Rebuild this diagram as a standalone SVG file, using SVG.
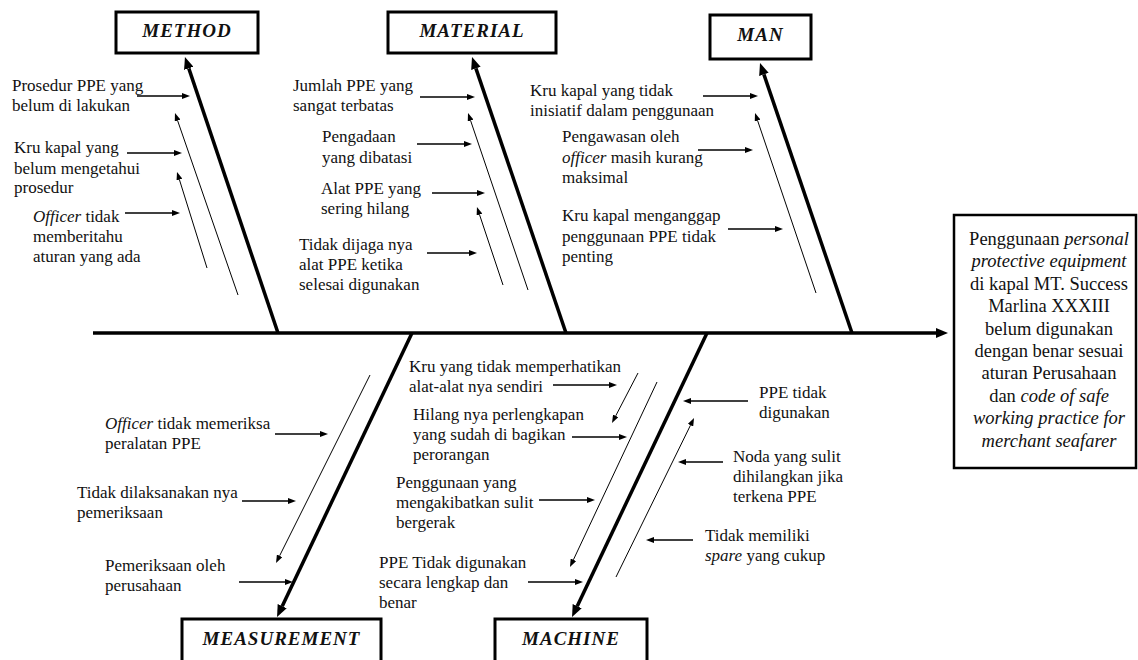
<svg xmlns="http://www.w3.org/2000/svg" width="1138" height="660" viewBox="0 0 1138 660">
<defs>
<style>
.lbl{font-family:"Liberation Serif","Times New Roman",serif;font-size:17px;fill:#111}
.cat{font-family:"Liberation Serif","Times New Roman",serif;font-size:19px;font-weight:bold;font-style:italic;letter-spacing:1px;fill:#111;text-anchor:middle}
.eff{font-family:"Liberation Serif","Times New Roman",serif;font-size:18.5px;fill:#111;text-anchor:middle}
.box{fill:#fff;stroke:#000;stroke-width:3}
.thick{stroke:#000;stroke-width:3.5;fill:none;marker-end:url(#bigArrow)}
.thin{stroke:#000;stroke-width:1;fill:none;marker-end:url(#smallArrow)}
.hz{stroke:#000;stroke-width:1.3;fill:none;marker-end:url(#smallArrow)}
</style>
<marker id="bigArrow" viewBox="0 -5 12 10" refX="0" refY="0" markerWidth="12" markerHeight="10" markerUnits="userSpaceOnUse" orient="auto">
<path d="M0,-5 L12,0 L0,5 z" fill="#000"/>
</marker>
<marker id="smallArrow" viewBox="0 -3 8 6" refX="0" refY="0" markerWidth="8" markerHeight="6" markerUnits="userSpaceOnUse" orient="auto">
<path d="M0,-3 L8,0 L0,3 z" fill="#000"/>
</marker>
</defs>
<rect width="1138" height="660" fill="#fff"/>

<g id="connectors">
<line class="thick" x1="93" y1="333" x2="936" y2="333" stroke-width="4"/>
<line class="thick" x1="278" y1="333" x2="188.8" y2="68.4"/>
<line class="thick" x1="566" y1="333" x2="475.9" y2="68.4"/>
<line class="thick" x1="852" y1="333" x2="763.9" y2="74.4"/>
<line class="thick" x1="412" y1="333" x2="282.2" y2="606.2"/>
<line class="thick" x1="707" y1="333" x2="577.2" y2="606.2"/>
<line class="thin" x1="238" y1="295" x2="177.6" y2="120.6"/>
<line class="thin" x1="207" y1="268" x2="179.4" y2="179.6"/>
<line class="thin" x1="528" y1="290" x2="470.6" y2="120.6"/>
<line class="thin" x1="503" y1="285" x2="479.5" y2="214.6"/>
<line class="thin" x1="816" y1="293" x2="757.6" y2="120.6"/>
<line class="thin" x1="370" y1="375" x2="279.6" y2="555.8"/>
<line class="thin" x1="638" y1="373" x2="615.7" y2="415.9"/>
<line class="thin" x1="657" y1="382" x2="573.4" y2="559.8"/>
<line class="thin" x1="616" y1="577" x2="690.5" y2="425.2"/>
<line class="hz" x1="137" y1="96" x2="182" y2="96"/>
<line class="hz" x1="127" y1="153" x2="174" y2="153"/>
<line class="hz" x1="125" y1="213" x2="172" y2="213"/>
<line class="hz" x1="420" y1="97" x2="467" y2="97"/>
<line class="hz" x1="417" y1="144" x2="464" y2="144"/>
<line class="hz" x1="432" y1="193" x2="477" y2="193"/>
<line class="hz" x1="427" y1="253" x2="469" y2="253"/>
<line class="hz" x1="703" y1="96" x2="750" y2="96"/>
<line class="hz" x1="698" y1="150" x2="745" y2="150"/>
<line class="hz" x1="728" y1="229" x2="775" y2="229"/>
<line class="hz" x1="275" y1="434" x2="320" y2="434"/>
<line class="hz" x1="242" y1="501" x2="288" y2="501"/>
<line class="hz" x1="239" y1="582" x2="285" y2="582"/>
<line class="hz" x1="553" y1="385" x2="609" y2="385"/>
<line class="hz" x1="572" y1="437" x2="619" y2="437"/>
<line class="hz" x1="539" y1="500" x2="587" y2="500"/>
<line class="hz" x1="528" y1="582" x2="575" y2="582"/>
<line class="hz" x1="748" y1="401" x2="691" y2="401"/>
<line class="hz" x1="723" y1="462" x2="686" y2="462"/>
<line class="hz" x1="693" y1="540" x2="654" y2="540"/>
</g>

<g id="method">
<rect class="box" x="116" y="12" width="142" height="41"/>
<text class="cat" x="187" y="37">METHOD</text>
</g>
<g id="material">
<rect class="box" x="388" y="12" width="168" height="41"/>
<text class="cat" x="472" y="37">MATERIAL</text>
</g>
<g id="man">
<rect class="box" x="710" y="15" width="101" height="44"/>
<text class="cat" x="760.5" y="40.5">MAN</text>
</g>
<g id="measurement">
<rect class="box" x="182" y="619" width="199" height="45"/>
<text class="cat" x="281.5" y="645">MEASUREMENT</text>
</g>
<g id="machine">
<rect class="box" x="495" y="619" width="152" height="45"/>
<text class="cat" x="571" y="645">MACHINE</text>
</g>

<g id="effect">
<rect x="954" y="215" width="182" height="253" fill="#fff" stroke="#000" stroke-width="2.5"/>
<text class="eff" x="1049" y="245">Penggunaan <tspan font-style="italic">personal</tspan></text>
<text class="eff" x="1049" y="267.4" font-style="italic">protective equipment</text>
<text class="eff" x="1049" y="289.8">di kapal MT. Success</text>
<text class="eff" x="1049" y="312.2">Marlina XXXIII</text>
<text class="eff" x="1049" y="334.6">belum digunakan</text>
<text class="eff" x="1049" y="357">dengan benar sesuai</text>
<text class="eff" x="1049" y="379.4">aturan Perusahaan</text>
<text class="eff" x="1049" y="401.8">dan <tspan font-style="italic">code of safe</tspan></text>
<text class="eff" x="1049" y="424.2" font-style="italic">working practice for</text>
<text class="eff" x="1049" y="446.6" font-style="italic">merchant seafarer</text>
</g>

<g id="method-causes">
<text class="lbl" x="12" y="90.5">Prosedur PPE yang</text>
<text class="lbl" x="12" y="110.5">belum di lakukan</text>
<text class="lbl" x="14" y="153">Kru kapal yang</text>
<text class="lbl" x="14" y="173.5">belum mengetahui</text>
<text class="lbl" x="14" y="193">prosedur</text>
<text class="lbl" x="33" y="222"><tspan font-style="italic">Officer</tspan> tidak</text>
<text class="lbl" x="33" y="241.5">memberitahu</text>
<text class="lbl" x="33" y="261.5">aturan yang ada</text>
</g>

<g id="material-causes">
<text class="lbl" x="293" y="90.5">Jumlah PPE yang</text>
<text class="lbl" x="293" y="110.5">sangat terbatas</text>
<text class="lbl" x="322" y="141.5">Pengadaan</text>
<text class="lbl" x="322" y="163">yang dibatasi</text>
<text class="lbl" x="321" y="194">Alat PPE yang</text>
<text class="lbl" x="321" y="214">sering hilang</text>
<text class="lbl" x="299" y="249.5">Tidak dijaga nya</text>
<text class="lbl" x="299" y="270">alat PPE ketika</text>
<text class="lbl" x="299" y="290">selesai digunakan</text>
</g>

<g id="man-causes">
<text class="lbl" x="530" y="96">Kru kapal yang tidak</text>
<text class="lbl" x="530" y="116">inisiatif dalam penggunaan</text>
<text class="lbl" x="562" y="141.5">Pengawasan oleh</text>
<text class="lbl" x="562" y="163"><tspan font-style="italic">officer</tspan> masih kurang</text>
<text class="lbl" x="562" y="183">maksimal</text>
<text class="lbl" x="562" y="221">Kru kapal menganggap</text>
<text class="lbl" x="562" y="241.5">penggunaan PPE tidak</text>
<text class="lbl" x="562" y="261.5">penting</text>
</g>

<g id="measurement-causes">
<text class="lbl" x="105" y="429"><tspan font-style="italic">Officer</tspan> tidak memeriksa</text>
<text class="lbl" x="105" y="449">peralatan PPE</text>
<text class="lbl" x="77" y="497.5">Tidak dilaksanakan nya</text>
<text class="lbl" x="77" y="517.5">pemeriksaan</text>
<text class="lbl" x="105" y="571">Pemeriksaan oleh</text>
<text class="lbl" x="105" y="591">perusahaan</text>
</g>

<g id="machine-causes">
<text class="lbl" x="409" y="372">Kru yang tidak memperhatikan</text>
<text class="lbl" x="409" y="391.5">alat-alat nya sendiri</text>
<text class="lbl" x="413" y="419.5">Hilang nya perlengkapan</text>
<text class="lbl" x="413" y="439.5">yang sudah di bagikan</text>
<text class="lbl" x="413" y="460">perorangan</text>
<text class="lbl" x="396" y="488">Penggunaan yang</text>
<text class="lbl" x="396" y="508">mengakibatkan sulit</text>
<text class="lbl" x="396" y="528">bergerak</text>
<text class="lbl" x="379" y="568">PPE Tidak digunakan</text>
<text class="lbl" x="379" y="588">secara lengkap dan</text>
<text class="lbl" x="379" y="608">benar</text>
<text class="lbl" x="759" y="398">PPE tidak</text>
<text class="lbl" x="759" y="418">digunakan</text>
<text class="lbl" x="733" y="461.5">Noda yang sulit</text>
<text class="lbl" x="733" y="482">dihilangkan jika</text>
<text class="lbl" x="733" y="502">terkena PPE</text>
<text class="lbl" x="705" y="541">Tidak memiliki</text>
<text class="lbl" x="705" y="561"><tspan font-style="italic">spare</tspan> yang cukup</text>
</g>
</svg>
